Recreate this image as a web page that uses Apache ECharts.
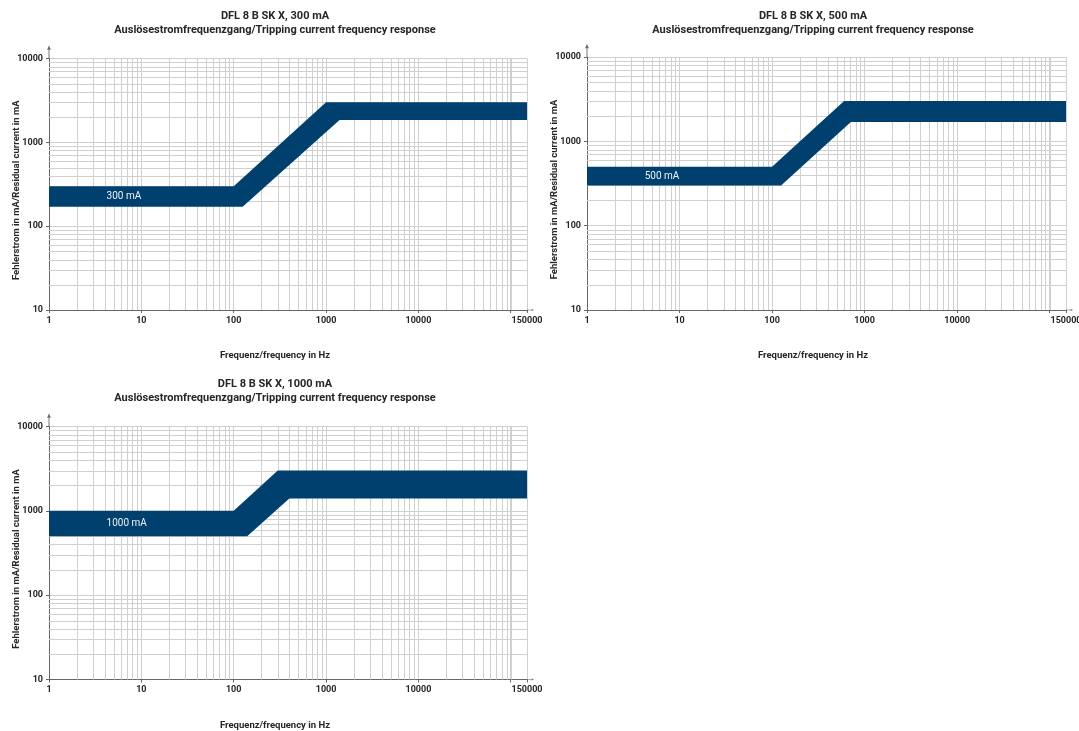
<!DOCTYPE html>
<html><head><meta charset="utf-8">
<script src="https://cdn.jsdelivr.net/npm/echarts@6/dist/echarts.min.js"></script>
<style>html,body{margin:0;padding:0;background:#fff}#c{width:1079px;height:731px}</style>
</head><body><div id="c"></div>
<script>
// ---- data ----
const xTicks = [1, 10, 100, 1000, 10000, 150000];
const yTicks = [10, 100, 1000, 10000];
const xGridValues = [2,3,4,5,6,7,8,9,20,30,40,50,60,70,80,90,200,300,400,500,600,700,800,900,
  2000,3000,4000,5000,6000,7000,8000,9000,20000,30000,40000,50000,60000,70000,80000,90000,100000];
const yGridValues = [20,30,40,50,60,70,80,90,200,300,400,500,600,700,800,900,2000,3000,4000,5000,6000,7000,8000,9000];
const chartTitles = ['DFL 8 B SK X, 300 mA', 'DFL 8 B SK X, 500 mA', 'DFL 8 B SK X, 1000 mA'];
const subTitle = 'Auslösestromfrequenzgang/Tripping current frequency response';
const bandLabels = ['300 mA', '500 mA', '1000 mA'];
const xName = 'Frequenz/frequency in Hz';
const yName = 'Fehlerstrom in mA/Residual current in mA';
const upper300 = [[1,300],[100,300],[1000,3000],[150000,3000]];
const lower300 = [[1,170],[125,170],[1400,1850],[150000,1850]];
const upper500 = [[1,500],[100,500],[600,3000],[150000,3000]];
const lower500 = [[1,300],[125,300],[710,1700],[150000,1700]];
const upper1000 = [[1,1000],[100,1000],[300,3000],[150000,3000]];
const lower1000 = [[1,500],[140,500],[400,1400],[150000,1400]];

const bands = [[upper300, lower300], [upper500, lower500], [upper1000, lower1000]];

// ---- layout / style ----
const grids = [
  {left: 49, top: 58.5, width: 478, height: 251.5, cx: 275},
  {left: 587, top: 57, width: 479, height: 253, cx: 813},
  {left: 49, top: 426.5, width: 478, height: 253, cx: 275}
];
const titleTops = [11, 11, 379];
const FONT = 'Roboto';
const TXT = '#262626';
const AXC = '#666';
const GRIDC = '#d0d0d0';
const BAND = '#00406f';
const arrowPath = 'path://M3,0 L6,7 L3.7,6.2 L3.7,20 L2.3,20 L2.3,6.2 L0,7 Z';

const xMin = xTicks[0], xMax = xTicks[xTicks.length - 1];
const yMin = yTicks[0], yMax = yTicks[yTicks.length - 1];

const option = {
  backgroundColor: '#fff',
  animation: false,
  title: [], grid: [], xAxis: [], yAxis: [], series: []
};

grids.forEach((g, i) => {
  option.title.push({
    text: chartTitles[i], subtext: subTitle,
    left: g.cx, top: titleTops[i], textAlign: 'center', padding: 0, itemGap: 3,
    textStyle: {fontFamily: FONT, fontSize: 11, fontWeight: 'bold', color: TXT},
    subtextStyle: {fontFamily: FONT, fontSize: 11, fontWeight: 'bold', color: TXT}
  });
  option.grid.push({left: g.left, top: g.top, width: g.width, height: g.height, outerBoundsMode: 'none', containLabel: false});
  option.xAxis.push({
    type: 'log', logBase: 10, gridIndex: i, min: xMin, max: xMax,
    name: xName, nameLocation: 'middle', nameGap: 41, nameMoveOverlap: false,
    nameTextStyle: {fontFamily: FONT, fontSize: 9.5, fontWeight: 'bold', color: TXT, padding: [0, 2 * (g.left + g.width / 2 - g.cx), 0, 0]},
    axisLine: {show: true, lineStyle: {color: AXC, width: 1}, symbol: ['none', arrowPath], symbolSize: [4, 7], symbolOffset: [0, 3.5]},
    axisTick: {show: true, length: 3, lineStyle: {color: AXC}},
    axisLabel: {
      fontFamily: FONT, fontSize: 9, fontWeight: 'bold', color: TXT, margin: 6,
      showMinLabel: true, showMaxLabel: true,
      formatter: v => {
        const r = Math.round(v);
        return xTicks.indexOf(r) >= 0 ? String(r) : '';
      }
    },
    splitLine: {show: true, lineStyle: {color: GRIDC, width: 1}},
    minorTick: {show: false}, minorSplitLine: {show: false}
  });
  option.yAxis.push({
    type: 'log', logBase: 10, gridIndex: i, min: yMin, max: yMax,
    name: yName, nameLocation: 'middle', nameGap: 27, nameMoveOverlap: false,
    nameTextStyle: {fontFamily: FONT, fontSize: 9.5, fontWeight: 'bold', color: TXT, padding: [0, 12, 0, 0]},
    axisLine: {show: true, lineStyle: {color: AXC, width: 1}, symbol: ['none', arrowPath], symbolSize: [4, 13], symbolOffset: [0, 6.5]},
    axisTick: {show: true, length: 3, lineStyle: {color: AXC}},
    axisLabel: {
      fontFamily: FONT, fontSize: 9, fontWeight: 'bold', color: TXT, margin: 6,
      formatter: v => {
        const r = Math.round(v);
        return yTicks.indexOf(r) >= 0 ? String(r) : '';
      }
    },
    splitLine: {show: true, lineStyle: {color: GRIDC, width: 1}}
  });

  // minor vertical grid lines
  option.series.push({
    type: 'custom', xAxisIndex: i, yAxisIndex: i, silent: true, z: 1,
    data: xGridValues.map(v => [v, yMin]),
    renderItem: (params, api) => {
      const v = api.value(0);
      const p1 = api.coord([v, yMin]), p2 = api.coord([v, yMax]);
      const x = Math.round(p1[0]) + 0.5;
      return {type: 'line', shape: {x1: x, y1: p1[1], x2: x, y2: p2[1]}, style: {stroke: GRIDC, lineWidth: 1}};
    }
  });
  // minor horizontal grid lines
  option.series.push({
    type: 'custom', xAxisIndex: i, yAxisIndex: i, silent: true, z: 1,
    data: yGridValues.map(v => [xMin, v]),
    renderItem: (params, api) => {
      const v = api.value(1);
      const p1 = api.coord([xMin, v]), p2 = api.coord([xMax, v]);
      const y = Math.round(p1[1]) + 0.5;
      return {type: 'line', shape: {x1: p1[0], y1: y, x2: p2[0], y2: y}, style: {stroke: GRIDC, lineWidth: 1}};
    }
  });
  // tripping band
  const up = bands[i][0], lo = bands[i][1];
  const poly = up.concat(lo.slice().reverse());
  option.series.push({
    type: 'custom', xAxisIndex: i, yAxisIndex: i, silent: true, z: 3,
    data: poly,
    renderItem: (params, api) => {
      if (params.dataIndex !== 0) return null;
      const pts = poly.map(p => api.coord(p));
      const mid = api.coord([4.2, Math.sqrt(up[0][1] * lo[0][1])]);
      return {
        type: 'group',
        children: [
          {type: 'polygon', shape: {points: pts}, style: {fill: BAND}},
          {type: 'text', x: mid[0], y: mid[1], style: {text: bandLabels[i], fill: '#eef2f6', font: '400 10px ' + FONT, align: 'left', verticalAlign: 'middle'}}
        ]
      };
    }
  });
});

const chart = echarts.init(document.getElementById('c'), null, {renderer: 'canvas'});
chart.setOption(option);
</script>
</body></html>
